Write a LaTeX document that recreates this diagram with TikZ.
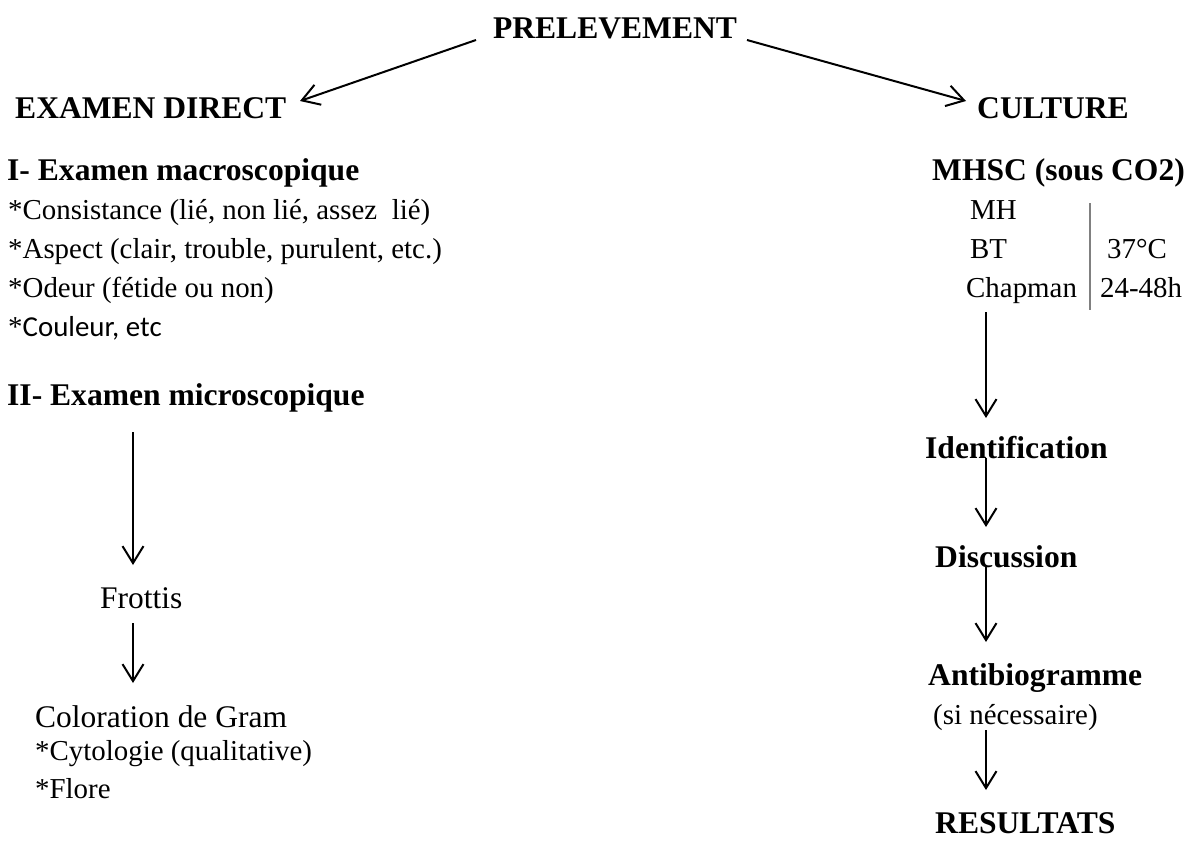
\documentclass[tikz,border=0pt]{standalone}
\usepackage{fontspec}
\setmainfont{Liberation Serif}
\newfontfamily\calib{Carlito}
\usetikzlibrary{arrows.meta}
\begin{document}
\begin{tikzpicture}[x=1bp,y=-1bp,
  txt/.style={inner sep=0pt,anchor=base west,font=\fontsize{29}{32}\selectfont},
  big/.style={inner sep=0pt,anchor=base west,font=\fontsize{31.6}{34}\selectfont},
  head/.style={inner sep=0pt,anchor=base west,font=\fontsize{31.7}{34}\selectfont\bfseries},
  arr/.style={line width=2bp,-{Straight Barb[length=17bp,width=21bp,line width=2bp]}},
  bar/.style={line width=1.3bp,draw=gray}]
\useasboundingbox (0,0) rectangle (1192,841);
% top
\node[head,anchor=base] (prel) at (615,38) {PRELEVEMENT};
\node[head] (exam) at (15,118) {EXAMEN DIRECT};
\node[head] (cult) at (977,118) {CULTURE};
\coordinate (la) at (476,40);
\coordinate (lb) at (300,101);
\coordinate (ra) at (747,40);
\coordinate (rb) at (966,101);
\draw[arr] (la) -- (lb);
\draw[arr] (ra) -- (rb);
% left column
\node[head] (mac) at (7,180) {I- Examen macroscopique};
\node[txt] (c1) at (8,219) {*Consistance (lié, non lié, assez\ \ lié)};
\node[txt] (c2) at (8,258) {*Aspect (clair, trouble, purulent, etc.)};
\node[txt] (c3) at (8,297) {*Odeur (fétide ou non)};
\node[txt] (c4) at (8,336) {*{\calib Couleur, etc}};
\node[head] (mic) at (7,405) {II- Examen microscopique};
\coordinate (m1) at (133,432);
\coordinate (m2) at (133,565);
\node[big] (frot) at (100,608) {Frottis};
\coordinate (f1) at (133,623);
\coordinate (f2) at (133,683);
\node[big] (gram) at (35,727) {Coloration de Gram};
\node[txt] (cyto) at (35,760) {*Cytologie (qualitative)};
\node[txt] (flore) at (35,798) {*Flore};
\draw[arr] (m1) -- (m2);
\draw[arr] (f1) -- (f2);
% right column
\node[head] (mhsc) at (932,180) {MHSC (sous CO2)};
\node[txt] (mh) at (970,219) {MH};
\node[txt] (bt) at (970,258) {BT};
\node[txt] (chap) at (966,297) {Chapman};
\node[txt] (t37) at (1107,258) {37°C};
\node[txt] (h24) at (1100,297) {24-48h};
\coordinate (b1) at (1090,203);
\coordinate (b2) at (1090,310);
\draw[bar] (b1) -- (b2);
\node[head] (ident) at (925,458) {Identification};
\node[head] (disc) at (935,567) {Discussion};
\node[head] (anti) at (928,685) {Antibiogramme};
\node[txt] (sin) at (933,724) {(si nécessaire)};
\node[head] (res) at (935,833) {RESULTATS};
\coordinate (r1) at (986,312);
\coordinate (r2) at (986,418);
\coordinate (i1) at (986,458);
\coordinate (i2) at (986,527);
\coordinate (d1) at (986,567);
\coordinate (d2) at (986,642);
\coordinate (s1) at (986,730);
\coordinate (s2) at (986,790);
\draw[arr] (r1) -- (r2);
\draw[arr] (i1) -- (i2);
\draw[arr] (d1) -- (d2);
\draw[arr] (s1) -- (s2);
\end{tikzpicture}
\end{document}
